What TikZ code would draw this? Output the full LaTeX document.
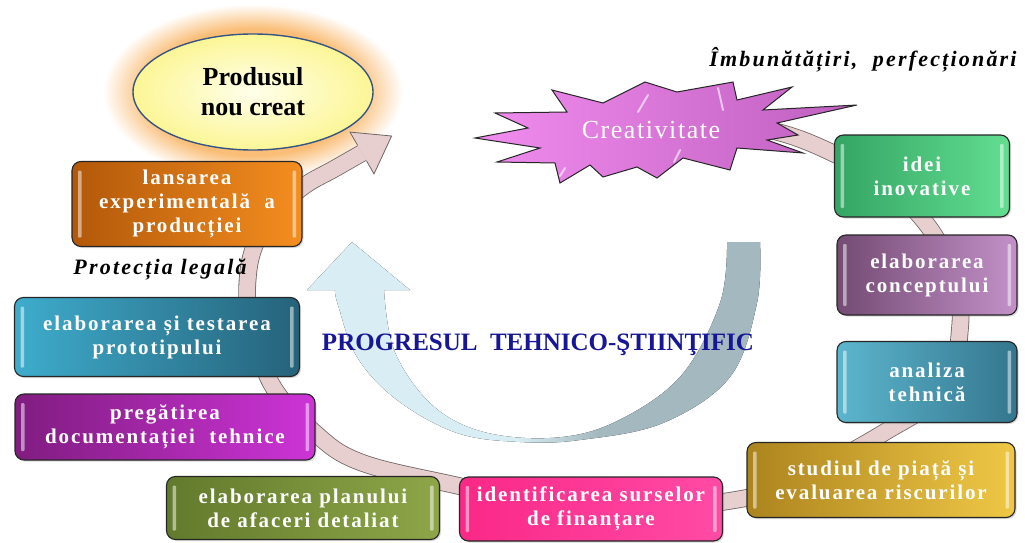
\documentclass[tikz,border=0pt]{standalone}
\usepackage{fontspec}
\setmainfont{Liberation Serif}
\newfontfamily\boxfont[LetterSpace=9]{Liberation Serif}
\newfontfamily\labfont[LetterSpace=10]{Liberation Serif}
\newfontfamily\starfont[LetterSpace=6]{Liberation Serif}
\usetikzlibrary{shadows,shapes.geometric}
\definecolor{ringfill}{RGB}{231,207,207}
\definecolor{ringline}{RGB}{110,100,100}
\definecolor{arrL}{RGB}{216,237,244}
\definecolor{arrR}{RGB}{164,184,192}
\definecolor{navy}{RGB}{22,22,150}
\definecolor{starL}{RGB}{242,140,240}
\definecolor{starR}{RGB}{190,95,190}
\definecolor{ellfill}{RGB}{252,246,150}
\definecolor{elledge}{RGB}{55,85,130}
\definecolor{glowc}{RGB}{250,190,120}
\definecolor{orgL}{RGB}{178,88,10}
\definecolor{orgR}{RGB}{245,142,32}
\definecolor{tealL}{RGB}{62,172,204}
\definecolor{tealR}{RGB}{38,98,122}
\definecolor{purL}{RGB}{128,28,128}
\definecolor{purR}{RGB}{205,52,215}
\definecolor{oliL}{RGB}{98,122,44}
\definecolor{oliR}{RGB}{142,166,72}
\definecolor{pinkL}{RGB}{250,40,135}
\definecolor{pinkR}{RGB}{255,75,165}
\definecolor{goldL}{RGB}{172,132,30}
\definecolor{goldR}{RGB}{240,200,70}
\definecolor{anaL}{RGB}{92,182,206}
\definecolor{anaR}{RGB}{52,118,142}
\definecolor{conL}{RGB}{115,75,115}
\definecolor{conR}{RGB}{195,145,200}
\definecolor{ideL}{RGB}{52,165,100}
\definecolor{ideR}{RGB}{98,222,145}
\pgfdeclareradialshading{glowshade}{\pgfpoint{0bp}{0bp}}{color(0bp)=(glowc);color(18bp)=(glowc);color(25bp)=(white);color(50bp)=(white)}
\pgfdeclarehorizontalshading{arrshade}{100bp}{color(0bp)=(arrL);color(48bp)=(arrL);color(57bp)=(arrR);color(100bp)=(arrR)}
\begin{document}
\begin{tikzpicture}[x=1pt,y=-1pt,
  gbox/.style={rounded corners=9pt, draw=black!85, line width=1.1pt, text=white, align=center,
    font=\boxfont\bfseries\fontsize{21}{24}\selectfont, inner sep=2pt,
    drop shadow={opacity=0.3,shadow xshift=1.5pt,shadow yshift=-1.5pt},
    path picture={
      \fill[white,opacity=.5,rounded corners=1pt] ([xshift=6pt,yshift=-9pt]path picture bounding box.north west) rectangle ([xshift=9.5pt,yshift=9pt]path picture bounding box.south west);
      \fill[white,opacity=.5,rounded corners=1pt] ([xshift=-9.5pt,yshift=-9pt]path picture bounding box.north east) rectangle ([xshift=-6pt,yshift=9pt]path picture bounding box.south east);
    }},
  lab/.style={font=\labfont\bfseries\itshape\fontsize{22}{26}\selectfont, text=black},
  ring/.style={draw=ringline, line width=0.8pt, double=ringfill, double distance=16pt}
]
\useasboundingbox (0,0) rectangle (1025,543);
% glow around product
\shade[shading=glowshade] (253,92) ellipse (150 and 88);
% central circular arrow
\fill[shading=arrshade] plot[smooth, tension=0.6] coordinates {(760,242) (757,303) (730,377) (663,423) (580,440) (520,442) (457,433) (397,400) (357,357) (338,305) (335,290)} -- (307,290) -- (352,242) -- (410,290) -- (384,290) -- plot[smooth, tension=0.6] coordinates {(384,290) (394,350) (430,403) (480,431) (550,438) (613,423) (680,377) (720,303) (727,242)} -- cycle;
% title
\node[font=\bfseries\fontsize{25}{28}\selectfont, text=navy, anchor=base] (prog) at (538,350) {PROGRESUL\ \ TEHNICO-ŞTIINŢIFIC};
% big ring
\draw[ring] plot[smooth, tension=0.6] coordinates {(700,122) (760,128) (815,145) (880,180) (928,226) (955,280) (960,328) (945,390) (885,432) (800,478) (735,500) (590,512) (450,484) (360,462) (315,433) (272,385) (250,320) (248,275) (257,240) (278,210) (304,186) (334,169) (362,153)};
\coordinate (e1) at (357.6,145.3);
\coordinate (e2) at (366.4,160.7);
\coordinate (b1) at (350,132.1);
\coordinate (b2) at (374,173.9);
\coordinate (tip) at (391.6,136);
\fill[ringfill] (e1) -- (b1) -- (tip) -- (b2) -- (e2) -- cycle;
\draw[ringline, line width=0.8pt, line join=miter] (e1) -- (b1) -- (tip) -- (b2) -- (e2);
% product ellipse
\node[ellipse, draw=elledge, line width=1.4pt, inner color=yellow!8, outer color=ellfill, minimum width=240pt, minimum height=116pt, align=center, font=\bfseries\fontsize{26}{30}\selectfont] (prod) at (253,92) {Produsul\\nou creat};
% star
\draw[draw=black!85, line width=1pt, left color=starL, right color=starR, line join=miter] (475,138) -- (528,128) -- (495,113) -- (567,112) -- (552,90) -- (603,103) -- (645,82) -- (677,92) -- (733,82) -- (737,100) -- (792,87) -- (763,110) -- (857,105) -- (777,123) -- (798,135) -- (767,140) -- (803,153) -- (737,148) -- (730,170) -- (683,158) -- (657,178) -- (637,167) -- (603,177) -- (590,165) -- (560,183) -- (555,163) -- (497,162) -- (540,148) -- cycle;
\draw[white, opacity=0.6, line width=2pt, line cap=round] (638,112) -- (648,95) (718,88) -- (723,110) (680,150) -- (674,162) (565,168) -- (560,176);
\node[font=\starfont\fontsize{26}{30}\selectfont, text=white] (creat) at (651,130) {Creativitate};
% boxes
\node[gbox, left color=ideL, right color=ideR, minimum width=175pt, minimum height=82pt] (idei) at (922,176) {idei\\inovative};
\node[gbox, left color=conL, right color=conR, minimum width=180pt, minimum height=80pt] (conc) at (927,275) {elaborarea\\conceptului};
\node[gbox, left color=anaL, right color=anaR, minimum width=180pt, minimum height=81pt] (anal) at (927,382) {analiza\\tehnică};
\node[gbox, left color=goldL, right color=goldR, minimum width=268pt, minimum height=75pt] (piata) at (881,480) {studiul de piață și\\evaluarea riscurilor};
\node[gbox, left color=pinkL, right color=pinkR, minimum width=263pt, minimum height=64pt] (fin) at (591,509) {identificarea surselor\\de finanțare};
\node[gbox, left color=oliL, right color=oliR, minimum width=273pt, minimum height=63pt] (plan) at (303,508) {elaborarea planului\\de afaceri detaliat};
\node[gbox, left color=purL, right color=purR, minimum width=300pt, minimum height=66pt] (doc) at (165,427) {pregătirea\\documentației\ \ tehnice};
\node[gbox, left color=tealL, right color=tealR, minimum width=285pt, minimum height=79pt] (proto) at (157,337) {elaborarea și testarea\\prototipului};
\node[gbox, left color=orgL, right color=orgR, minimum width=230pt, minimum height=85pt] (lans) at (187,204) {lansarea\\experimentală\ \ a\\producției};
% italic labels
\node[lab] (imb) at (863,60) {Îmbunătățiri,\ \ perfecționări};
\node[lab] (prot) at (160,270) {Protecția legală};
\end{tikzpicture}
\end{document}
